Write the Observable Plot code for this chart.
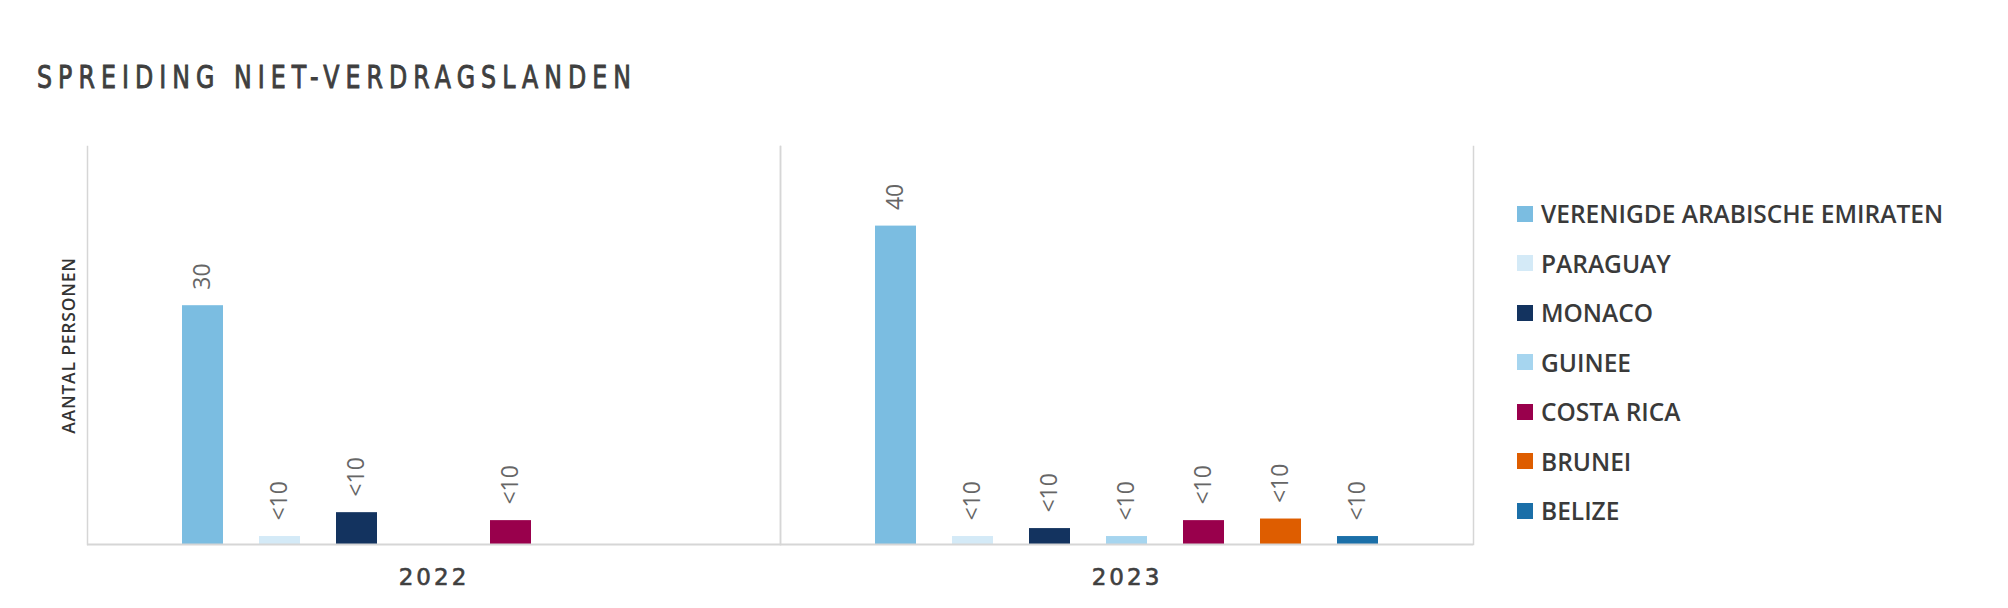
<!DOCTYPE html>
<html>
<head>
<meta charset="utf-8">
<script src="https://cdn.jsdelivr.net/npm/d3@7"></script>
<script src="https://cdn.jsdelivr.net/npm/@observablehq/plot@0.6"></script>
<style>
html, body { margin: 0; padding: 0; background: #fff; }
#wrap { position: relative; width: 2008px; height: 608px; overflow: hidden; background: #fff; }
#chart { position: absolute; left: 0; top: 0; }
#title { position: absolute; left: 37px; top: 61px; font-family: "DejaVu Sans"; font-size: 32px; line-height: 32px; color: #3f3f3f; -webkit-text-stroke: 1px #3f3f3f; white-space: nowrap; transform-origin: 0 0; transform: scaleX(0.74); }
#legend { position: absolute; left: 1517px; top: 189px; font-family: "Open Sans", sans-serif; font-size: 24.5px; font-weight: 600; color: #3a3a3a; }
#legend .item { display: flex; align-items: center; height: 49.5px; white-space: nowrap; }
#legend .sw { width: 16px; height: 16px; margin-right: 8px; flex: none; }
svg [aria-label="y-axis label"] text, svg [aria-label="y-axis label"] { font-size: 17.5px; font-weight: 600; fill: #333; letter-spacing: 0.8px; }
svg [aria-label="fx-axis tick label"] { font-family: "DejaVu Sans"; font-size: 23px; letter-spacing: 3px; fill: #404040; stroke: #404040; stroke-width: 0.6px; }
</style>
</head>
<body>
<div id="wrap">
  <div id="chart"></div>
  <div id="title">SPREIDING NIET-VERDRAGSLANDEN</div>
  <div id="legend"></div>
</div>
<script>
const years = ["2022", "2023"];
const countries = ["VERENIGDE ARABISCHE EMIRATEN", "PARAGUAY", "MONACO", "GUINEE", "COSTA RICA", "BRUNEI", "BELIZE"];
const colors = ["#7bbde1", "#d4eaf7", "#13335f", "#a6d5ef", "#99004c", "#de5d00", "#1b6fa8"];
const values2022 = [30, 1, 4, null, 3, null, null];
const values2023 = [40, 1, 2, 1, 3, 3.2, 1];
const labels2022 = ["30", "<10", "<10", null, "<10", null, null];
const labels2023 = ["40", "<10", "<10", "<10", "<10", "<10", "<10"];
const yLabel = "AANTAL PERSONEN";

const data = [];
[[years[0], values2022, labels2022], [years[1], values2023, labels2023]].forEach(([yr, vals, labs]) => {
  countries.forEach((c, i) => {
    if (vals[i] != null) data.push({year: yr, country: c, value: vals[i], label: labs[i]});
  });
});

const chart = Plot.plot({
  width: 2008,
  height: 608,
  marginTop: 146,
  marginBottom: 64,
  marginLeft: 87,
  marginRight: 535,
  style: {fontFamily: "Open Sans, sans-serif", fontSize: "18px", color: "#404040", background: "transparent"},
  fx: {domain: years, padding: 0, label: null, tickSize: 0, tickPadding: 24, axis: "bottom"},
  x: {domain: countries, paddingInner: 0.474, paddingOuter: 1.18, axis: null},
  y: {domain: [0, 50], ticks: [], tickSize: 0, label: yLabel, labelAnchor: "center", labelArrow: "none", labelOffset: 25},
  color: {domain: countries, range: colors},
  marks: [
    Plot.frame({anchor: "left", stroke: "#d6d6d6", strokeWidth: 1.5}),
    Plot.frame({anchor: "right", stroke: "#d6d6d6", strokeWidth: 1.5}),
    Plot.barY(data, {fx: "year", x: "country", y: "value", fill: "country"}),
    Plot.ruleY([0], {stroke: "#d6d6d6", strokeWidth: 2}),
    Plot.text(data, {fx: "year", x: "country", y: "value", text: "label", rotate: -90, textAnchor: "start", lineAnchor: "middle", dy: -16, fontSize: 23, fontWeight: 500, fill: "#666", style: "letter-spacing:3px"})
  ]
});
document.getElementById("chart").appendChild(chart);

const legend = document.getElementById("legend");
countries.forEach((c, i) => {
  const it = document.createElement("div");
  it.className = "item";
  const sw = document.createElement("div");
  sw.className = "sw";
  sw.style.background = colors[i];
  const tx = document.createElement("span");
  tx.textContent = c;
  it.appendChild(sw);
  it.appendChild(tx);
  legend.appendChild(it);
});

// fit title letter-spacing so the (condensed) title spans the reference width
const t = document.getElementById("title");
const sx = 0.74;
const w0 = t.getBoundingClientRect().width / sx;
const n = t.textContent.length;
t.style.letterSpacing = ((600 / sx - w0) / n) + "px";
</script>
</body>
</html>
